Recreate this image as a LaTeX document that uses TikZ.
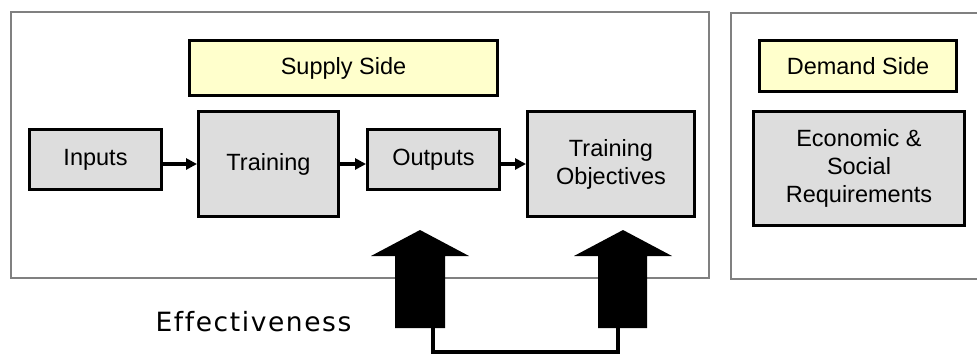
\documentclass[tikz,border=0pt]{standalone}
\usepackage{fontspec}
\setmainfont{Liberation Sans}
\newfontfamily\efffont[LetterSpace=6,Ligatures=NoCommon]{DejaVu Sans}
\usetikzlibrary{arrows.meta}
\definecolor{boxgray}{HTML}{DDDDDD}
\definecolor{boxyellow}{HTML}{FFFFCC}
\definecolor{framegray}{HTML}{808080}
\begin{document}
\begin{tikzpicture}[x=1pt,y=-1pt,
  frame/.style={draw=framegray,line width=2.5pt},
  box/.style={draw=black,line width=3pt,fill=boxgray,align=center,
    font=\fontsize{23.5}{28}\selectfont,inner sep=0pt},
  titlebox/.style={box,fill=boxyellow},
  flow/.style={line width=4pt,-{Triangle[length=11pt,width=11pt]}},
  block/.style={fill=black},
  link/.style={line width=4pt}]
\useasboundingbox (0,0) rectangle (977,354);
% frames
\draw[frame] (11,12) rectangle (709,278);
\draw[frame] (731,13) rectangle (990,279);
% supply side
\node[titlebox,minimum width=308pt,minimum height=55pt] (supply) at (343.5,68) {Supply Side};
\node[box,minimum width=132pt,minimum height=60pt] (inputs) at (95.5,159.5) {Inputs};
\node[box,minimum width=140pt,minimum height=105pt] (training) at (268.5,164) {Training};
\node[box,minimum width=132pt,minimum height=60pt] (outputs) at (433.5,159.5) {Outputs};
\node[box,minimum width=167pt,minimum height=105pt] (objectives) at (611,164) {Training\\Objectives};
% demand side
\node[titlebox,minimum width=197pt,minimum height=51pt] (demand) at (858,66) {Demand Side};
\node[box,minimum width=211pt,minimum height=114pt] (econ) at (859,168.5) {Economic \&\\Social\\Requirements};
% flow arrows
\draw[flow] (inputs.east |- training.west) -- (training.west);
\draw[flow] (training.east) -- (outputs.west |- training.east);
\draw[flow] (outputs.east |- objectives.west) -- (objectives.west);
% block arrows
\fill[block] (420,230) -- (469,256) -- (445,256) -- (445,328) -- (395,328) -- (395,256) -- (371,256) -- cycle;
\fill[block] (623,230) -- (672,256) -- (647,256) -- (647,328) -- (598,328) -- (598,256) -- (574,256) -- cycle;
\coordinate (effA) at (433,328);
\coordinate (effB) at (618,328);
\draw[link] (effA) -- ++(0,24) -| (effB);
\node[font=\efffont\fontsize{26.5}{30}\selectfont,anchor=base] (eff) at (253.5,331) {Effectiveness};
\end{tikzpicture}
\end{document}
